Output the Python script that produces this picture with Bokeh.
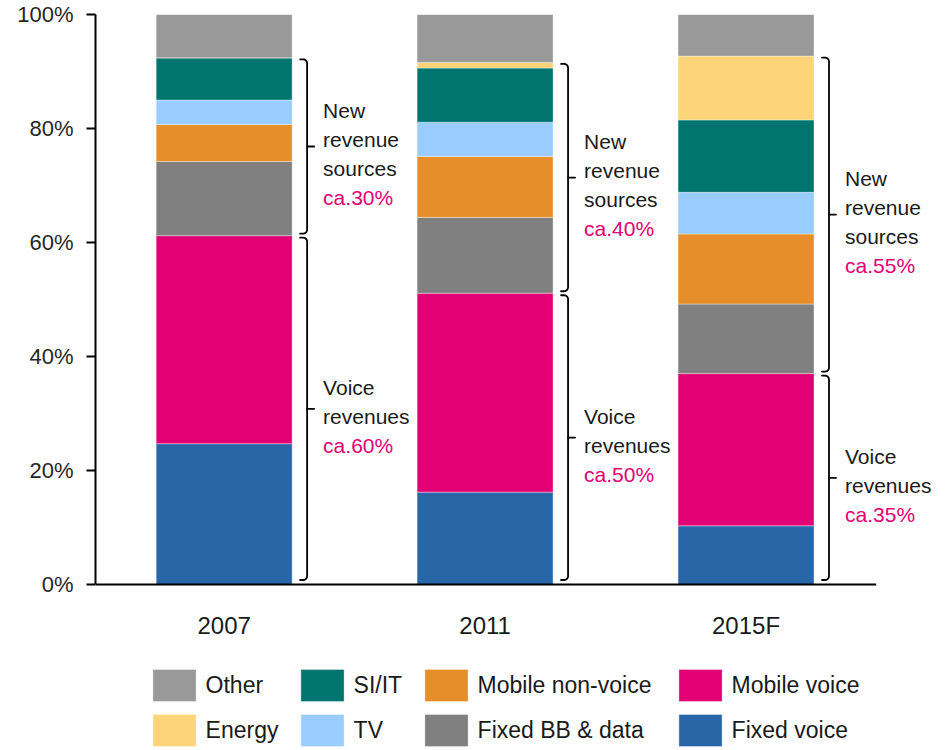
import numpy as np
from bokeh.plotting import figure
from bokeh.models import (ColumnDataSource, Range1d, FixedTicker, PrintfTickFormatter,
                          Legend, LegendItem)
from bokeh.core.properties import value
from bokeh.embed import file_html
from bokeh.resources import INLINE

# ---------------- data ----------------
years = ["2007", "2011", "2015F"]
fixed_voice = [24.7, 16.2, 10.3]
mobile_voice = [36.5, 34.9, 26.7]
fixed_bb = [13.0, 13.3, 12.2]
mobile_nonvoice = [6.5, 10.7, 12.3]
tv = [4.3, 6.0, 7.3]
si_it = [7.4, 9.5, 12.7]
energy = [0.0, 1.0, 11.2]
other = [7.6, 8.4, 7.3]

series_keys = ["fixed_voice", "mobile_voice", "fixed_bb", "mobile_nonvoice",
               "tv", "si_it", "energy", "other"]
series_labels = ["Fixed voice", "Mobile voice", "Fixed BB & data", "Mobile non-voice",
                 "TV", "SI/IT", "Energy", "Other"]
series_colors = ["#2966A8", "#E20074", "#808080", "#E68F2A",
                 "#99CCFF", "#00746E", "#FCD57A", "#999999"]

new_label = ["New", "revenue", "sources"]
new_pct = ["ca.30%", "ca.40%", "ca.55%"]
voice_label = ["Voice", "revenues"]
voice_pct = ["ca.60%", "ca.50%", "ca.35%"]

y_ticks = [0, 20, 40, 60, 80, 100]

# ---------------- layout ----------------
FONT = "Liberation Sans"
TXT = "#1A1A1A"
MAG = "#E20074"
W, H = 942, 750
BL, BR, BT, BB = 95, 66, 14, 0
X0, X1 = -0.493, 2.5
FW, FH = W - BL - BR, H - BT - BB
XPPU = FW / (X1 - X0)
YPPU = 570 / 100.0           # pixels per percent between 0% and 100%
Y0 = 100 - FH / YPPU         # frame extends below 0% to hold the legend
BW = 0.521

xpos = list(range(len(years)))

p = figure(width=W, height=H, x_range=Range1d(X0, X1), y_range=Range1d(Y0, 100),
           output_backend="svg", toolbar_location=None,
           min_border_left=BL, min_border_right=BR, min_border_top=BT, min_border_bottom=BB)
p.outline_line_color = None
p.xgrid.visible = False
p.ygrid.visible = False
p.background_fill_color = "white"
p.border_fill_color = "white"

data = dict(x=xpos, fixed_voice=fixed_voice, mobile_voice=mobile_voice, fixed_bb=fixed_bb,
            mobile_nonvoice=mobile_nonvoice, tv=tv, si_it=si_it, energy=energy, other=other)
src = ColumnDataSource(data)
rs = p.vbar_stack(series_keys, x="x", width=BW, fill_color=series_colors,
                  line_color="white", line_alpha=0.35, line_width=1, source=src)

# ---------------- brackets ----------------
fv = np.array(fixed_voice); mv = np.array(mobile_voice); ot = np.array(other)
voice_top = fv + mv
new_top = 100 - ot

g_top = 1.5 / YPPU
g_mid = 2.0 / YPPU
g_bot = 4.5 / YPPU
hook = 7 / XPPU
rx = 4 / XPPU
ry = 4 / YPPU
tick = 7 / XPPU
t = np.linspace(0, np.pi / 2, 7)

bx, by = [], []
mids_new, mids_voice = [], []


def brace(xv, ya, yb):
    cx, cy = xv - rx, ya - ry
    xs = [xv - hook] + list(cx + rx * np.sin(t))
    ys = [ya] + list(cy + ry * np.cos(t))
    cx2, cy2 = xv - rx, yb + ry
    xs += list(cx2 + rx * np.cos(t)) + [xv - hook]
    ys += list(cy2 - ry * np.sin(t)) + [yb]
    bx.append(xs); by.append(ys)
    mid = (ya + yb) / 2
    bx.append([xv, xv + tick]); by.append([mid, mid])
    return mid


for i, x in enumerate(xpos):
    xv = x + BW / 2 + 15 / XPPU
    mids_new.append(brace(xv, new_top[i] - g_top, voice_top[i] + g_mid))
    mids_voice.append(brace(xv, voice_top[i] - g_mid, 0 + g_bot))

p.multi_line(xs=bx, ys=by, line_color="black", line_width=1.8, line_join="round", line_cap="round")

# ---------------- annotation text ----------------
LS = 29
tx, ty, tt, tc, to = [], [], [], [], []
for i, x in enumerate(xpos):
    xr = x + BW / 2
    lines = new_label + [new_pct[i]]
    cols = [TXT] * len(new_label) + [MAG]
    base = -36
    for k, (s, c) in enumerate(zip(lines, cols)):
        tx.append(xr); ty.append(mids_new[i]); tt.append(s); tc.append(c); to.append(base + LS * k)
    lines = voice_label + [voice_pct[i]]
    cols = [TXT] * len(voice_label) + [MAG]
    base = -21.5
    for k, (s, c) in enumerate(zip(lines, cols)):
        tx.append(xr); ty.append(mids_voice[i]); tt.append(s); tc.append(c); to.append(base + LS * k)

tsrc = ColumnDataSource(dict(x=tx, y=ty, text=tt, color=tc, yoff=to))
p.text(x="x", y="y", text="text", text_color="color", y_offset="yoff", x_offset=31,
       text_font=value(FONT), text_font_size="21px", text_baseline="alphabetic",
       text_align="left", source=tsrc, level="overlay")

# ---------------- axes ----------------
xa = p.xaxis[0]
xa.fixed_location = 0
xa.ticker = FixedTicker(ticks=xpos)
xa.major_label_overrides = {i: y for i, y in enumerate(years)}
xa.major_tick_line_color = None
xa.minor_tick_line_color = None
xa.major_tick_out = 0
xa.major_tick_in = 0
xa.axis_line_color = "black"
xa.axis_line_width = 2
xa.major_label_text_font = FONT
xa.major_label_text_font_size = "24px"
xa.major_label_text_color = TXT
xa.major_label_standoff = 27

ya_ = p.yaxis[0]
ya_.bounds = (0, 100)
ya_.ticker = FixedTicker(ticks=y_ticks)
ya_.formatter = PrintfTickFormatter(format="%d%%")
ya_.minor_tick_line_color = None
ya_.major_tick_out = 9
ya_.major_tick_in = 0
ya_.major_tick_line_width = 2
ya_.major_tick_line_color = "black"
ya_.axis_line_color = "black"
ya_.axis_line_width = 2
ya_.major_label_text_font = FONT
ya_.major_label_text_font_size = "22px"
ya_.major_label_text_color = "#262626"
ya_.major_label_standoff = 13

# ---------------- legend (4 columns x 2 rows) ----------------
columns = [(7, 6), (5, 4), (3, 2), (1, 0)]
leg_x = [51.6, 199.6, 323.6, 577.6]
for (a, b), lx in zip(columns, leg_x):
    items = [LegendItem(label=series_labels[a], renderers=[rs[a]]),
             LegendItem(label=series_labels[b], renderers=[rs[b]])]
    leg = Legend(items=items, location=(lx, 0), orientation="vertical",
                 glyph_width=54, glyph_height=40, label_standoff=5, spacing=5,
                 padding=0, margin=0, border_line_color=None, background_fill_alpha=0,
                 label_text_font=FONT, label_text_font_size="23px", label_text_color=TXT)
    p.add_layout(leg)

open("out.html", "w").write(file_html(p, INLINE))
